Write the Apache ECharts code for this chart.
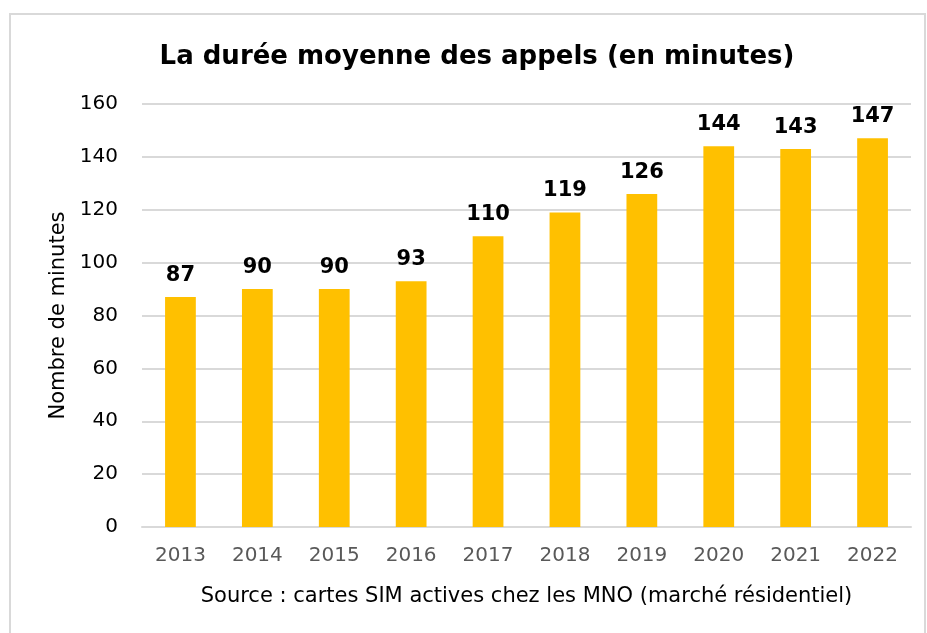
<!DOCTYPE html>
<html>
<head>
<meta charset="utf-8">
<script src="https://cdn.jsdelivr.net/npm/echarts@6/dist/echarts.min.js"></script>
<style>
  html, body { margin: 0; padding: 0; background: #fff; }
  #chart { width: 927px; height: 633px; }
</style>
</head>
<body>
<div id="chart"></div>
<script>
var years = ['2013', '2014', '2015', '2016', '2017', '2018', '2019', '2020', '2021', '2022'];
var minutes = [87, 90, 90, 93, 110, 119, 126, 144, 143, 147];

(function () {
  var myChart = echarts.init(document.getElementById('chart'));
  var font = 'DejaVu Sans';

  var option = {
    backgroundColor: '#fff',
    animation: false,
    textStyle: { fontFamily: font },
    title: {
      text: 'La durée moyenne des appels (en minutes)',
      left: 472,
      textAlign: 'center',
      top: 39,
      textStyle: { fontFamily: font, fontWeight: 'bold', fontSize: 26, color: '#000' }
    },
    graphic: [
      {
        type: 'rect',
        shape: { x: 10, y: 14, width: 915, height: 640 },
        style: { fill: 'none', stroke: '#d9d9d9', lineWidth: 2 },
        silent: true
      }
    ],
    grid: { left: 142, right: 16, top: 104, bottom: 106 },
    xAxis: {
      type: 'category',
      data: years,
      axisLine: { lineStyle: { color: '#d9d9d9', width: 2 } },
      axisTick: { show: false },
      axisLabel: { color: '#595959', fontSize: 20, margin: 19, fontFamily: font },
      name: 'Source : cartes SIM actives chez les MNO (marché résidentiel)',
      nameLocation: 'middle',
      nameGap: 59,
      nameTextStyle: { color: '#000', fontSize: 21, fontFamily: font }
    },
    yAxis: {
      type: 'value',
      min: 0,
      max: 160,
      interval: 20,
      axisLine: { show: false },
      axisTick: { show: false },
      splitLine: { lineStyle: { color: '#d9d9d9', width: 2 } },
      axisLabel: { color: '#000', fontSize: 20, margin: 24, fontFamily: font },
      name: 'Nombre de minutes',
      nameLocation: 'middle',
      nameGap: 66,
      nameRotate: 90,
      nameTextStyle: { color: '#000', fontSize: 21, fontFamily: font }
    },
    series: [
      {
        type: 'bar',
        data: minutes,
        barWidth: '40%',
        itemStyle: { color: '#FFC000' },
        label: {
          show: true,
          position: 'top',
          distance: 11,
          color: '#000',
          fontWeight: 'bold',
          fontSize: 21,
          fontFamily: font
        }
      }
    ]
  };
  myChart.setOption(option);
})();
</script>
</body>
</html>
